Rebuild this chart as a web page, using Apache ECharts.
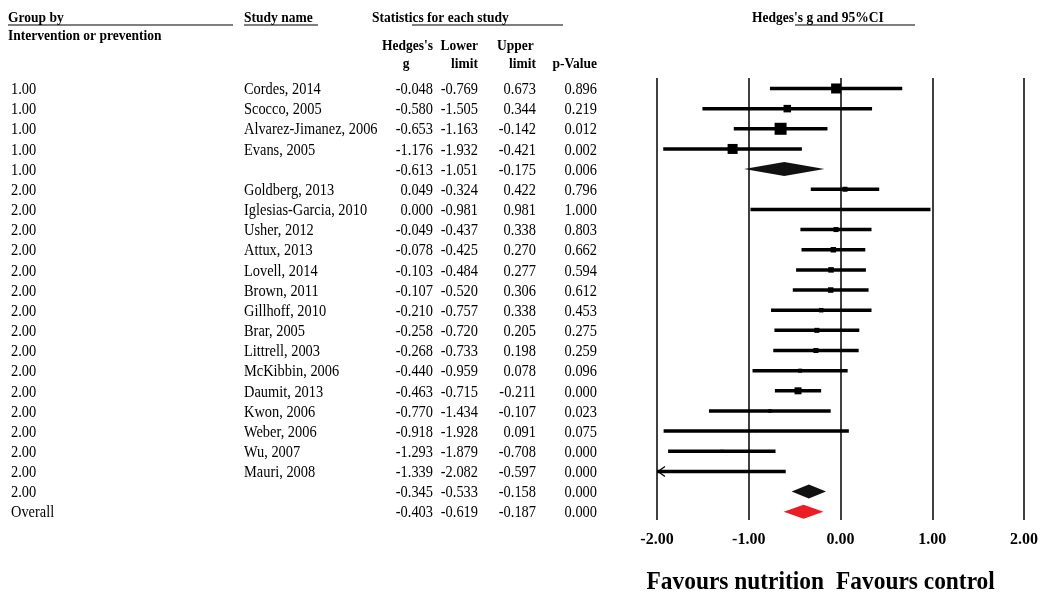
<!DOCTYPE html>
<html>
<head>
<meta charset="utf-8">
<script src="https://cdn.jsdelivr.net/npm/echarts@6/dist/echarts.min.js"></script>
<style>
html, body { margin: 0; padding: 0; background: #fff; }
#chart { width: 1041px; height: 592px; }
</style>
</head>
<body>
<div id="chart"></div>
<script>
// forest plot data, one entry per row (top to bottom)
var groups = ['1.00', '1.00', '1.00', '1.00', '1.00',
  '2.00', '2.00', '2.00', '2.00', '2.00', '2.00', '2.00', '2.00', '2.00', '2.00',
  '2.00', '2.00', '2.00', '2.00', '2.00', '2.00', 'Overall'];
var studies = ['Cordes, 2014', 'Scocco, 2005', 'Alvarez-Jimanez, 2006', 'Evans, 2005', '',
  'Goldberg, 2013', 'Iglesias-Garcia, 2010', 'Usher, 2012', 'Attux, 2013', 'Lovell, 2014',
  'Brown, 2011', 'Gillhoff, 2010', 'Brar, 2005', 'Littrell, 2003', 'McKibbin, 2006',
  'Daumit, 2013', 'Kwon, 2006', 'Weber, 2006', 'Wu, 2007', 'Mauri, 2008', '', ''];
var kinds = ['study', 'study', 'study', 'study', 'sub',
  'study', 'study', 'study', 'study', 'study', 'study', 'study', 'study', 'study', 'study',
  'study', 'study', 'study', 'study', 'study', 'sub', 'overall'];
var hedgesG = [-0.048, -0.580, -0.653, -1.176, -0.613,
  0.049, 0.000, -0.049, -0.078, -0.103, -0.107, -0.210, -0.258, -0.268, -0.440,
  -0.463, -0.770, -0.918, -1.293, -1.339, -0.345, -0.403];
var lowerLimit = [-0.769, -1.505, -1.163, -1.932, -1.051,
  -0.324, -0.981, -0.437, -0.425, -0.484, -0.520, -0.757, -0.720, -0.733, -0.959,
  -0.715, -1.434, -1.928, -1.879, -2.082, -0.533, -0.619];
var upperLimit = [0.673, 0.344, -0.142, -0.421, -0.175,
  0.422, 0.981, 0.338, 0.270, 0.277, 0.306, 0.338, 0.205, 0.198, 0.078,
  -0.211, -0.107, 0.091, -0.708, -0.597, -0.158, -0.187];
var pValue = [0.896, 0.219, 0.012, 0.002, 0.006,
  0.796, 1.000, 0.803, 0.662, 0.594, 0.612, 0.453, 0.275, 0.259, 0.096,
  0.000, 0.023, 0.075, 0.000, 0.000, 0.000, 0.000];
// relative study weight (box size)
var boxWeight = [10, 7.5, 12, 10, 0,
  5, 2, 5, 5.5, 5.5, 5.5, 4.5, 5, 5, 4,
  7, 3.5, 2, 3, 2, 0, 0];
var xTicks = [-2, -1, 0, 1, 2];

var FONT = 'Liberation Serif';
var myChart = echarts.init(document.getElementById('chart'));

var studyData = [], diamondData = [], tableData = [];
for (var i = 0; i < hedgesG.length; i++) {
  tableData.push([0, i]);
  if (kinds[i] === 'study') {
    studyData.push([hedgesG[i], i, lowerLimit[i], upperLimit[i], boxWeight[i]]);
  } else {
    diamondData.push([hedgesG[i], i, lowerLimit[i], upperLimit[i], kinds[i] === 'overall' ? 1 : 0]);
  }
}

function renderStudy(params, api) {
  var y = api.value(1);
  var lo = Math.max(api.value(2), xTicks[0]);
  var hi = Math.min(api.value(3), xTicks[xTicks.length - 1]);
  var p0 = api.coord([lo, y]), p1 = api.coord([hi, y]), c = api.coord([api.value(0), y]);
  var s = api.value(4);
  var kids = [
    {type: 'line', shape: {x1: p0[0], y1: p0[1], x2: p1[0], y2: p1[1]},
      style: {stroke: '#000', lineWidth: 3.5}},
    {type: 'rect', shape: {x: c[0] - s / 2, y: c[1] - s / 2, width: s, height: s},
      style: {fill: '#000'}}
  ];
  if (api.value(2) < xTicks[0]) {
    kids.push({type: 'polyline',
      shape: {points: [[p0[0] + 8, p0[1] - 5], [p0[0] + 1, p0[1]], [p0[0] + 8, p0[1] + 5]]},
      style: {stroke: '#000', lineWidth: 1.3, fill: null}});
  }
  return {type: 'group', children: kids};
}

function renderDiamond(params, api) {
  var y = api.value(1);
  var l = api.coord([api.value(2), y]), r = api.coord([api.value(3), y]);
  var c = api.coord([api.value(0), y]);
  var h = 7;
  return {
    type: 'polygon',
    shape: {points: [[l[0], l[1]], [c[0], c[1] - h], [r[0], r[1]], [c[0], c[1] + h]]},
    style: {fill: api.value(4) ? '#ed1c24' : '#111'}
  };
}

function txt(x, y, s, align, bold, size) {
  return {
    type: 'text', x: x, y: y, scaleX: 0.9,
    style: {text: s, align: align, verticalAlign: 'middle', fill: '#000',
      font: (bold ? 'bold ' : '') + (size || 16) + 'px "' + FONT + '"'}
  };
}

function renderTable(params, api) {
  var i = params.dataIndex;
  var y = api.coord([0, api.value(1)])[1] + 1.5;
  return {type: 'group', children: [
    txt(11, y, groups[i], 'left'),
    txt(244, y, studies[i], 'left'),
    txt(433, y, hedgesG[i].toFixed(3), 'right'),
    txt(478, y, lowerLimit[i].toFixed(3), 'right'),
    txt(536, y, upperLimit[i].toFixed(3), 'right'),
    txt(597, y, pValue[i].toFixed(3), 'right')
  ]};
}

function uline(x1, x2, y) {
  return {type: 'line', shape: {x1: x1, y1: y, x2: x2, y2: y}, style: {stroke: '#000', lineWidth: 1}};
}

var option = {
  animation: false,
  backgroundColor: '#fff',
  grid: {left: 657, right: 14, top: 78, bottom: 72},
  xAxis: {
    type: 'value', min: -2, max: 2, interval: 1,
    axisLine: {show: false}, axisTick: {show: false},
    splitLine: {show: true, lineStyle: {color: '#000', width: 1.5}},
    axisLabel: {margin: 12, color: '#000', fontFamily: FONT, fontWeight: 'bold', fontSize: 16,
      formatter: function (v) { return v.toFixed(2); }}
  },
  yAxis: {type: 'value', inverse: true, min: -0.52, max: 21.41, show: false},
  series: [
    {type: 'custom', name: 'table', renderItem: renderTable, data: tableData,
      encode: {x: 0, y: 1}, clip: false, silent: true},
    {type: 'custom', name: 'studies', renderItem: renderStudy, data: studyData,
      encode: {x: [0, 2, 3], y: 1}, clip: false, silent: true, z: 3},
    {type: 'custom', name: 'summary', renderItem: renderDiamond, data: diamondData,
      encode: {x: [0, 2, 3], y: 1}, clip: false, silent: true, z: 3}
  ],
  graphic: [
    txt(8, 18, 'Group by', 'left', true, 15),
    uline(8, 233, 25),
    txt(8, 36, 'Intervention or prevention', 'left', true, 15),
    txt(244, 18, 'Study name', 'left', true, 15),
    uline(244, 318, 25),
    txt(372, 18, 'Statistics for each study', 'left', true, 15),
    uline(412, 563, 25),
    txt(433, 46, "Hedges's", 'right', true, 15),
    txt(406, 64, 'g', 'center', true, 15),
    txt(478, 46, 'Lower', 'right', true, 15),
    txt(478, 64, 'limit', 'right', true, 15),
    txt(497, 46, 'Upper', 'left', true, 15),
    txt(536, 64, 'limit', 'right', true, 15),
    txt(597, 64, 'p-Value', 'right', true, 15),
    txt(752, 18, "Hedges's g and 95%CI", 'left', true, 15),
    uline(795, 915, 25),
    txt(824, 582, 'Favours nutrition', 'right', true, 26),
    txt(836, 582, 'Favours control', 'left', true, 26)
  ]
};

myChart.setOption(option);
</script>
</body>
</html>
